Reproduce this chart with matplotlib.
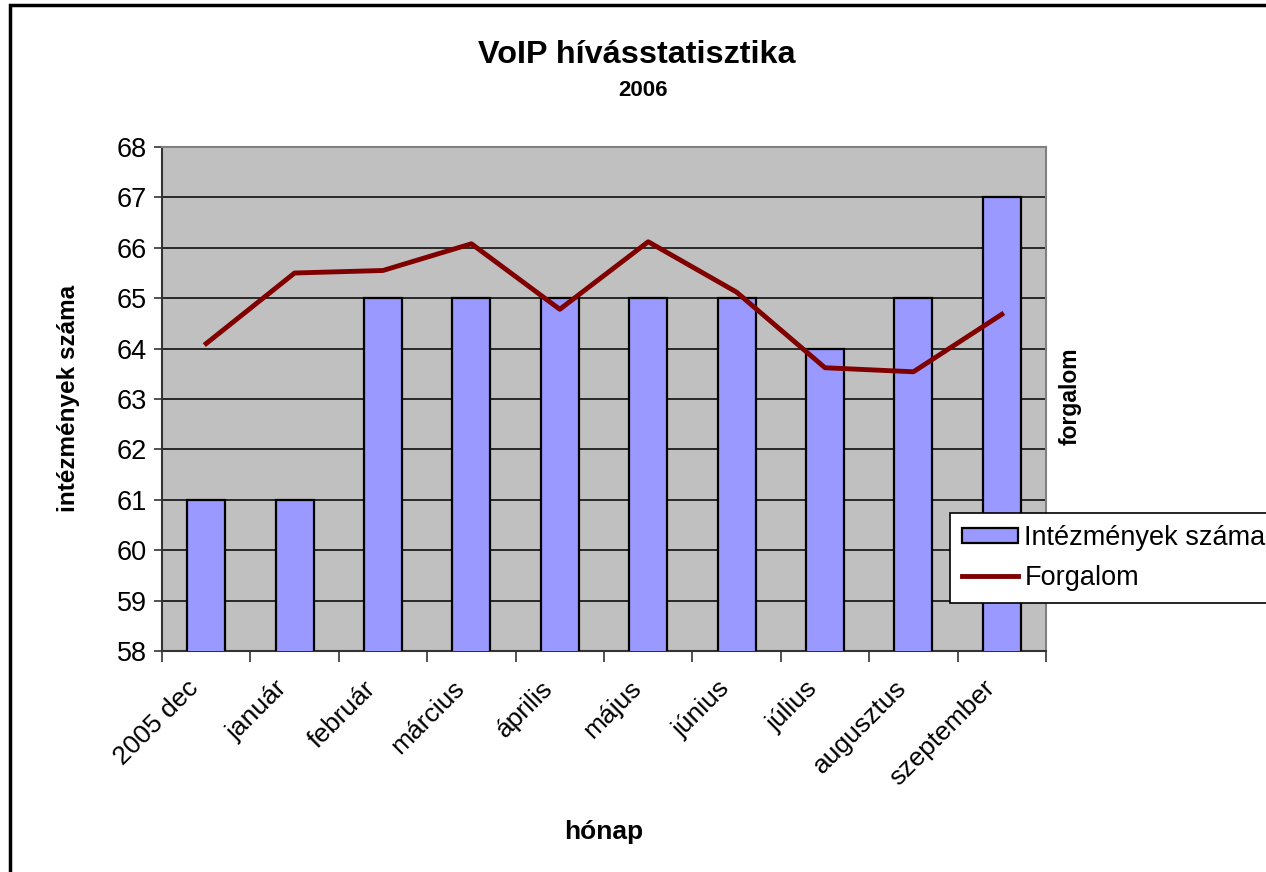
import numpy as np
import matplotlib
matplotlib.use('Agg')
import matplotlib.pyplot as plt
from matplotlib.patches import Rectangle

months = ['2005 dec', 'január', 'február', 'március', 'április', 'május',
          'június', 'július', 'augusztus', 'szeptember']
intezmenyek = [61, 61, 65, 65, 65, 65, 65, 64, 65, 67]
forgalom = [64.1, 65.5, 65.55, 66.08, 64.78, 66.12, 65.12, 63.62, 63.54, 64.68]

plt.rcParams['font.family'] = ['Liberation Sans', 'DejaVu Sans']

W, H = 1266, 872
fig = plt.figure(figsize=(W / 100, H / 100), dpi=100)

# chart area border (cut off at right and bottom like the original)
fig.patches.append(Rectangle((10 / W, -0.1), 1.2, (H - 5) / H + 0.1,
                             transform=fig.transFigure, fill=False,
                             edgecolor='black', linewidth=2.5))

x0, x1, y_top, y_bot = 162, 1046, 147, 651
ax = fig.add_axes([x0 / W, (H - y_bot) / H, (x1 - x0) / W, (y_bot - y_top) / H])
ax.set_facecolor('#C0C0C0')

x = np.arange(len(months))
bars = ax.bar(x, intezmenyek, width=0.43, color='#9999FF',
              edgecolor='black', linewidth=1.6, label='Intézmények száma',
              zorder=3)
line, = ax.plot(x, forgalom, color='#800000', linewidth=3.5, label='Forgalom',
                zorder=4)

ax.set_ylim(58, 68)
ax.set_xlim(-0.5, len(months) - 0.5)
ax.set_yticks(range(58, 69))
ax.yaxis.grid(True, color='black', linewidth=1.1, zorder=1)
ax.set_axisbelow(True)

# category boundaries get the tick marks; labels sit (invisibly ticked)
# slightly left of each centre, like the Excel original
ax.set_xticks(np.arange(-0.5, len(months)), minor=False)
ax.set_xticklabels([])
ax.set_xticks(x - 0.22, minor=True)
ax.set_xticklabels(months, minor=True, rotation=45, ha='right',
                   rotation_mode='anchor', fontsize=19)
ax.tick_params(axis='x', which='minor', length=0, pad=18)
ax.tick_params(axis='x', which='major', length=8, width=1.2, direction='out',
               color='#333333')
ax.tick_params(axis='y', length=6, width=1.2, direction='out', labelsize=19.5,
               color='#333333', pad=5)

for side in ['top', 'right']:
    ax.spines[side].set_color('#808080')
    ax.spines[side].set_linewidth(1.5)
for side in ['left', 'bottom']:
    ax.spines[side].set_color('#333333')
    ax.spines[side].set_linewidth(1.5)

ax.set_ylabel('intézmények száma', fontsize=17.5, fontweight='bold')
ax.yaxis.set_label_coords((69 - x0) / (x1 - x0), (y_bot - 398) / (y_bot - y_top))
ax.set_xlabel('hónap', fontsize=19, fontweight='bold')
ax.xaxis.set_label_coords(0.5, (y_bot - 832) / (y_bot - y_top))
ax.xaxis.label.set_va('center')
ax.yaxis.label.set_va('center')
fig.text(1070 / W, 1 - 396 / H, 'forgalom', rotation=90, fontsize=16.5,
         fontweight='bold', ha='center', va='center')

fig.text(637 / W, 1 - 55 / H, 'VoIP hívásstatisztika', fontsize=23.3,
         fontweight='bold', ha='center', va='center')
fig.text(643 / W, 1 - 91 / H, '2006', fontsize=16, fontweight='bold',
         ha='center', va='center')

leg = fig.legend([bars, line], ['Intézmények száma', 'Forgalom'],
                 loc='upper left', bbox_to_anchor=(950 / W, 1 - 513 / H),
                 fontsize=19.5, frameon=True, fancybox=False, framealpha=1,
                 edgecolor='black', borderpad=0.45, handlelength=2.05,
                 handleheight=0.5, handletextpad=0.25, labelspacing=0.5,
                 borderaxespad=0)
leg.get_frame().set_linewidth(1.2)

fig.savefig('out.png', dpi=100)
